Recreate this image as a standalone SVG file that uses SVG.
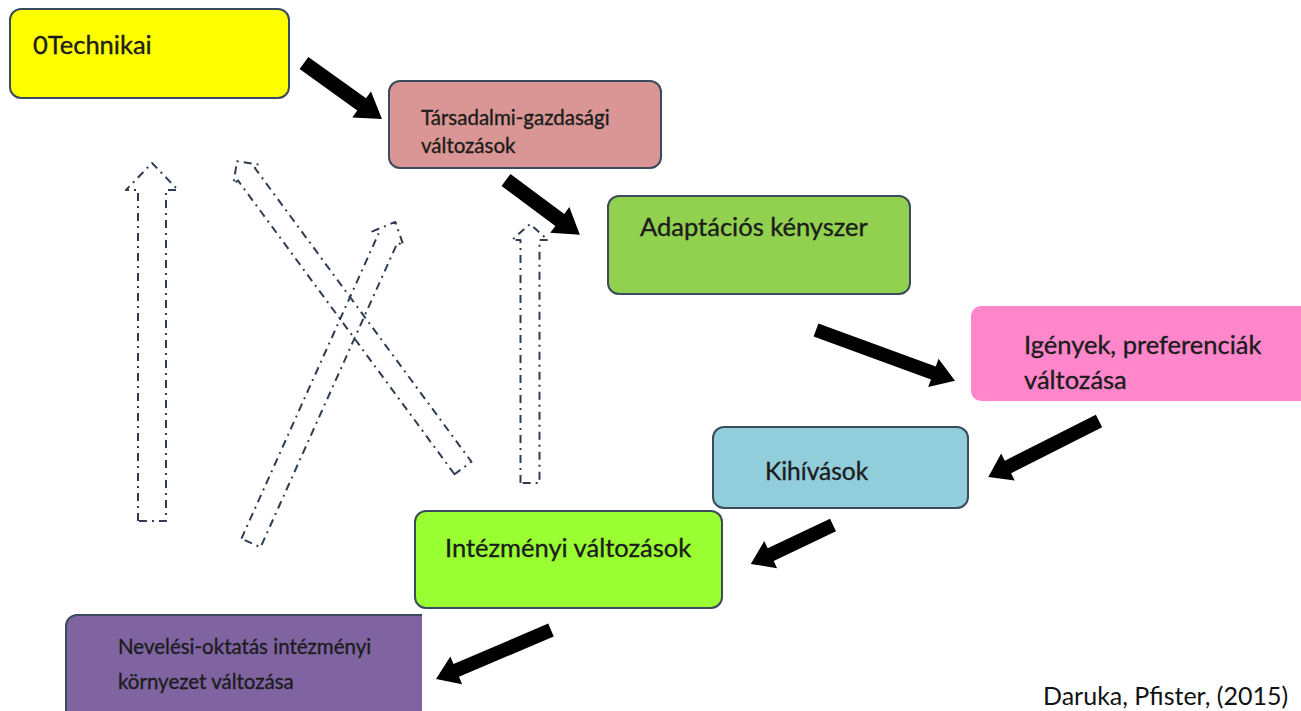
<svg xmlns="http://www.w3.org/2000/svg" width="1301" height="711" viewBox="0 0 1301 711">
  <defs>
    <style>
      .box { stroke: #3b4a5c; stroke-width: 2; }
      .lbl { font-family: Lato, "Liberation Sans", sans-serif; fill: #1c1c1c; stroke: #1c1c1c; stroke-width: 0.35; }
      .big { font-size: 25.5px; }
      .small { font-size: 20.5px; }
      .solid { fill: #000000; }
      .dash { fill: none; stroke: #2f3d52; stroke-width: 2; stroke-dasharray: 8 5 2 5; stroke-linejoin: round; }
    </style>
    <clipPath id="clip-purple">
      <rect x="0" y="600" width="422" height="111"/>
    </clipPath>
  </defs>

  <rect width="1301" height="711" fill="#ffffff"/>

  <!-- nodes -->
  <g id="node-technikai">
    <rect class="box" x="10" y="9" width="279" height="89" rx="11" fill="#ffff00"/>
    <text class="lbl big" x="33" y="54">0Technikai</text>
  </g>
  <g id="node-tarsadalmi">
    <rect class="box" x="389" y="81" width="272" height="87" rx="11" fill="#d99694"/>
    <text class="lbl small" x="421" y="125">Társadalmi-gazdasági</text>
    <text class="lbl small" x="421" y="153">változások</text>
  </g>
  <g id="node-adaptacios">
    <rect class="box" x="608" y="196" width="302" height="98" rx="11" fill="#92d050"/>
    <text class="lbl big" x="640" y="236">Adaptációs kényszer</text>
  </g>
  <g id="node-igenyek">
    <rect x="971" y="306" width="345" height="95" rx="10" fill="#ff86cb"/>
    <text class="lbl big" x="1024" y="354">Igények, preferenciák</text>
    <text class="lbl big" x="1024" y="389">változása</text>
  </g>
  <g id="node-kihivasok">
    <rect class="box" x="713" y="427" width="255" height="81" rx="11" fill="#92cddc"/>
    <text class="lbl" font-size="24.5" x="765" y="480">Kihívások</text>
  </g>
  <g id="node-intezmenyi">
    <rect class="box" x="415" y="511" width="307" height="97" rx="11" fill="#99ff33"/>
    <text class="lbl big" x="445" y="557">Intézményi változások</text>
  </g>
  <g id="node-neveles">
    <rect class="box" x="66" y="615" width="380" height="120" rx="11" fill="#8064a2" clip-path="url(#clip-purple)"/>
    <text class="lbl small" x="118" y="654">Nevelési-oktatás intézményi</text>
    <text class="lbl small" x="118" y="689">környezet változása</text>
  </g>

  <!-- connectors -->
  <g id="connectors">
    <!-- main chain: solid block arrows -->
    <polygon class="solid" points="0,-7.5 71,-7.5 71,-16 96,0 71,16 71,7.5 0,7.5" transform="translate(304,63) rotate(35.7)"/>
    <polygon class="solid" points="0,-7.5 67,-7.5 67,-16 92,0 67,16 67,7.5 0,7.5" transform="translate(506,180) rotate(36.6)"/>
    <polygon class="solid" points="0,-7 125,-7 125,-15 148,0 125,15 125,7 0,7" transform="translate(816,330) rotate(20.1)"/>
    <polygon class="solid" points="0,-7 102,-7 102,-15 124,0 102,15 102,7 0,7" transform="translate(1099,421) rotate(153.2)"/>
    <polygon class="solid" points="0,-7 69,-7 69,-15 91,0 69,15 69,7 0,7" transform="translate(833,525) rotate(154.6)"/>
    <polygon class="solid" points="0,-7 103,-7 103,-15 125,0 103,15 103,7 0,7" transform="translate(551,630) rotate(156.9)"/>

    <!-- feedback: hollow dash-dot block arrows -->
    <polygon class="dash" points="0,-14 331,-14 331,-26 358,0 331,26 331,14 0,14" transform="translate(152,521) rotate(-90)"/>
    <polygon class="dash" points="0,-10.5 365,-10.5 365,-16 381,0 365,16 365,10.5 0,10.5" transform="translate(463,468) rotate(-126.4)"/>
    <polygon class="dash" points="0,-10.5 334,-10.5 334,-17 352,0 334,17 334,10.5 0,10.5" transform="translate(251,543) rotate(-65.8)"/>
    <polygon class="dash" points="0,-9.5 243,-9.5 243,-18 259,0 243,18 243,9.5 0,9.5" transform="translate(530,483) rotate(-90)"/>
  </g>

  <text id="source" font-family="Lato, 'Liberation Sans', sans-serif" font-size="25" x="1043" y="705" fill="#111111">Daruka, Pfister, (2015)</text>
</svg>
